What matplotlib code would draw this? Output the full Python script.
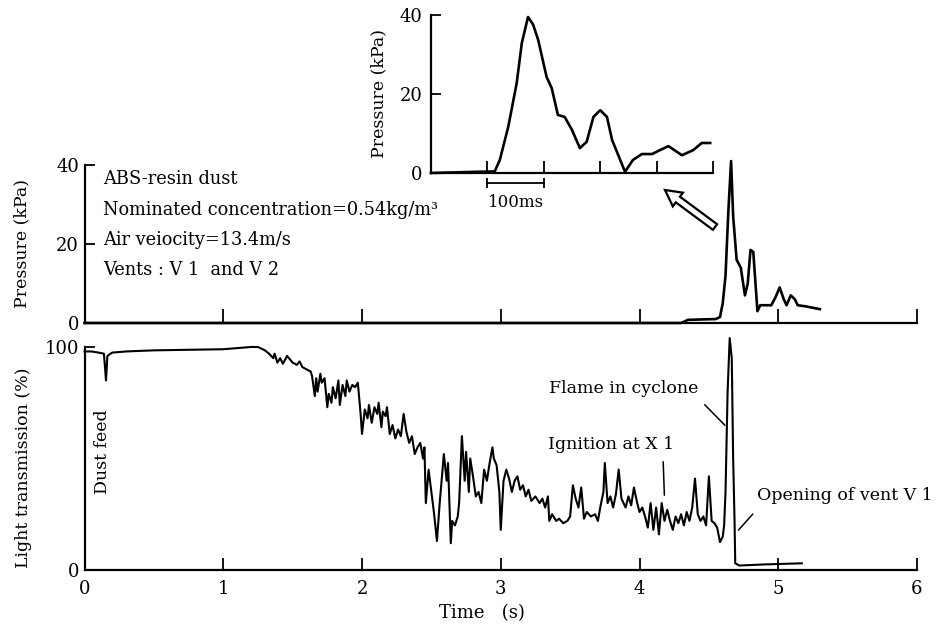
import matplotlib
matplotlib.use("Agg")
import matplotlib.pyplot as plt
from matplotlib.patches import FancyArrow

plt.rcParams['font.family'] = ['DejaVu Serif']

# ---------------- data ----------------
# Upper panel: pressure (kPa) vs time (s)
p_time = [0.0, 4.30, 4.35, 4.55, 4.58, 4.60, 4.62, 4.64, 4.66, 4.675, 4.70, 4.73,
          4.76, 4.78, 4.80, 4.82, 4.84, 4.85, 4.87, 4.95, 4.98, 5.01, 5.04, 5.06,
          5.09, 5.12, 5.14, 5.20, 5.30]
p_kpa = [0.0, 0.0, 0.8, 1.0, 1.5, 5.0, 12.0, 28.0, 41.0, 27.0, 16.0, 14.0,
         7.0, 10.0, 18.5, 18.0, 8.0, 3.0, 4.5, 4.5, 6.5, 9.0, 6.0, 4.5,
         7.0, 6.0, 4.5, 4.2, 3.5]

# Inset: pressure (kPa) vs time (ms)
inset_ms = [0, 80, 113, 122, 137, 152, 161, 172, 181, 190, 205, 214, 225, 237,
            250, 264, 276, 288, 300, 312, 321, 344, 358, 374, 392, 406, 421,
            445, 465, 480, 495]
inset_kpa = [0.0, 0.3, 0.4, 3.3, 11.7, 22.8, 32.9, 39.5, 37.6, 33.7, 24.3, 21.5,
             14.7, 14.2, 10.9, 6.3, 7.9, 14.2, 15.9, 14.2, 8.4, 0.3, 3.3, 4.8,
             4.8, 5.8, 6.8, 4.5, 5.8, 7.6, 7.6]

# Lower panel: light transmission (%) vs time (s)
lt_time = [0.00, 0.05, 0.10, 0.14, 0.155, 0.165, 0.20, 0.30, 0.50, 0.80, 1.00, 1.10,
           1.20, 1.25, 1.30, 1.33, 1.36, 1.37, 1.39, 1.41, 1.43, 1.46, 1.48, 1.50,
           1.53, 1.55, 1.57, 1.60, 1.63, 1.64, 1.66, 1.67, 1.68, 1.70, 1.71, 1.73,
           1.75, 1.76, 1.78, 1.79, 1.81, 1.83, 1.84, 1.86, 1.88, 1.89, 1.91, 1.93,
           1.95, 1.97, 1.99, 2.00, 2.02, 2.04, 2.05, 2.07, 2.09, 2.11, 2.12, 2.14,
           2.15, 2.17, 2.18, 2.20, 2.22, 2.24, 2.26, 2.28, 2.30, 2.32, 2.34, 2.36,
           2.38, 2.40, 2.42, 2.44, 2.45, 2.46, 2.48, 2.50, 2.52, 2.54, 2.56, 2.58,
           2.59, 2.61, 2.62, 2.64, 2.65, 2.67, 2.69, 2.70, 2.71, 2.72, 2.74, 2.75,
           2.77, 2.78, 2.80, 2.82, 2.84, 2.86, 2.88, 2.90, 2.92, 2.94, 2.95, 2.97,
           2.99, 3.00, 3.02, 3.04, 3.06, 3.08, 3.10, 3.12, 3.14, 3.16, 3.18, 3.20,
           3.22, 3.25, 3.28, 3.30, 3.32, 3.34, 3.35, 3.37, 3.40, 3.42, 3.45, 3.48,
           3.50, 3.52, 3.54, 3.56, 3.58, 3.60, 3.62, 3.65, 3.68, 3.70, 3.72, 3.74,
           3.75, 3.77, 3.79, 3.81, 3.83, 3.85, 3.87, 3.90, 3.92, 3.94, 3.96, 3.98,
           4.00, 4.02, 4.04, 4.06, 4.08, 4.10, 4.12, 4.14, 4.16, 4.18, 4.20, 4.22,
           4.24, 4.26, 4.28, 4.30, 4.32, 4.34, 4.36, 4.38, 4.40, 4.42, 4.44, 4.46,
           4.48, 4.50, 4.52, 4.54, 4.56, 4.58, 4.60, 4.61, 4.62, 4.635, 4.65, 4.665,
           4.675, 4.685, 4.69, 4.72, 4.90, 5.17]
lt_pct = [98, 98, 97.5, 97, 85, 96, 97.5, 98, 98.5, 98.8, 99, 99.5,
          100, 100, 98.5, 97, 95, 97, 93, 95, 92.5, 96, 94.5, 93,
          92, 93.5, 91, 90, 89, 87, 78, 86, 80, 88, 84, 86,
          73, 79, 75, 82, 77, 85, 74, 83, 78, 85, 80, 83,
          82, 84, 70, 61, 72, 68, 74, 66, 73, 70, 75, 64,
          71, 69, 73, 61, 65, 59, 63, 60, 70, 62, 57, 60,
          52, 55, 57, 50, 55, 30, 45, 35, 25, 13, 30, 45,
          52, 40, 48, 12, 22, 20, 24, 30, 45, 60, 40, 53,
          35, 50, 42, 33, 35, 30, 45, 40, 48, 55, 50, 47,
          35, 18, 40, 45, 41, 35, 40, 42, 36, 38, 33, 36,
          31, 33, 30, 32, 28, 33, 22, 25, 22, 23, 21, 22,
          24, 38, 32, 28, 37, 23, 26, 24, 25, 22, 29, 35,
          48, 30, 33, 28, 34, 45, 32, 28, 33, 29, 37, 31,
          26, 28, 24, 19, 30, 18, 28, 16, 30, 22, 27, 22,
          18, 24, 21, 25, 20, 26, 22, 28, 41, 25, 22, 24,
          20, 42, 22, 21, 19, 12.5, 15, 20, 35, 80, 104, 95,
          50, 22, 3, 2, 2.5, 3]

x_ticks = [0, 1, 2, 3, 4, 5, 6]
p_ticks = [0, 20, 40]
lt_ticks = [0, 100]
inset_xticks = [100, 200, 300, 400, 500]

W, H = 949, 633
fig = plt.figure(figsize=(W / 100, H / 100), dpi=100)

def fr(left, top, right, bottom):
    return [left / W, 1 - bottom / H, (right - left) / W, (bottom - top) / H]

lw_ax = 1.6
fs = 12.5

def style(ax):
    for s in ['top', 'right']:
        ax.spines[s].set_visible(False)
    for s in ['left', 'bottom']:
        ax.spines[s].set_linewidth(lw_ax)
    ax.tick_params(axis='x', direction='in', length=9, width=1.3, labelsize=13, pad=7)
    ax.tick_params(axis='y', direction='in', length=7, width=1.3, labelsize=13, pad=4)

# ---------------- upper panel ----------------
ax1 = fig.add_axes(fr(84.5, 165, 917, 323))
ax1.plot(p_time, p_kpa, color='black', lw=1.9, clip_on=False)
ax1.set_xlim(0, 6)
ax1.set_ylim(0, 40)
ax1.set_xticks(x_ticks)
ax1.set_xticklabels([])
ax1.set_yticks(p_ticks)
style(ax1)
ax1.tick_params(axis='x', length=10)

info = ["ABS-resin dust",
        "Nominated concentration=0.54kg/m³",
        "Air veiocity=13.4m/s",
        "Vents : V 1  and V 2"]
for i, line in enumerate(info):
    ax1.text(0.135, 36.4 - 7.7 * i, line, fontsize=fs + 0.3, va='center', ha='left')

# ---------------- lower panel ----------------
ax2 = fig.add_axes(fr(84.5, 347, 917, 570))
ax2.plot(lt_time, lt_pct, color='black', lw=1.5, clip_on=False)
ax2.set_xlim(0, 6)
ax2.set_ylim(0, 100)
ax2.set_xticks(x_ticks)
ax2.set_yticks(lt_ticks)
style(ax2)

ax2.text(0.13, 53, "Dust feed", rotation=90, fontsize=fs, ha='center', va='center')
ax2.text(3.35, 81.6, "Flame in cyclone", fontsize=fs, ha='left', va='center')
ax2.annotate('', xy=(4.63, 64), xytext=(4.456, 75),
             arrowprops=dict(arrowstyle='-', lw=1.1, color='black'))
ax2.text(3.34, 56.5, "Ignition at X 1", fontsize=fs, ha='left', va='center')
ax2.annotate('', xy=(4.18, 32.3), xytext=(4.17, 49.8),
             arrowprops=dict(arrowstyle='-', lw=1.1, color='black'))
ax2.text(4.85, 33.6, "Opening of vent V 1", fontsize=fs, ha='left', va='center')
ax2.annotate('', xy=(4.70, 17), xytext=(4.83, 26),
             arrowprops=dict(arrowstyle='-', lw=1.1, color='black'))

# axis labels
fig.text(482 / W, 1 - 613 / H, "Time   (s)", fontsize=fs + 0.5, ha='center', va='center')
fig.text(22 / W, 1 - 243 / H, "Pressure (kPa)", fontsize=fs, rotation=90,
         ha='center', va='center')
fig.text(24 / W, 1 - 468 / H, "Light transmission (%)", fontsize=fs, rotation=90,
         ha='center', va='center')

# ---------------- inset ----------------
ax3 = fig.add_axes(fr(431, 15, 713, 173))
ax3.plot(inset_ms, inset_kpa, color='black', lw=1.9, clip_on=False)
ax3.set_xlim(0, 500)
ax3.set_ylim(0, 40)
ax3.set_xticks(inset_xticks)
ax3.set_xticklabels([])
ax3.set_yticks(p_ticks)
style(ax3)
ax3.tick_params(axis='y', pad=6)
fig.text(379 / W, 1 - 94 / H, "Pressure (kPa)", fontsize=fs, rotation=90,
         ha='center', va='center')
# 100 ms scale bar
ax3.plot([100, 200], [-2.6, -2.6], color='black', lw=1.3, marker='|',
         markersize=7, mew=1.3, clip_on=False)
ax3.text(150, -7.4, "100ms", fontsize=fs - 0.5, ha='center', va='center')

# hollow arrow pointing from the peak to the inset
arr = FancyArrow(7.15, (H - 227) / 100, -0.50, 0.37, width=0.07,
                 head_width=0.17, head_length=0.16, length_includes_head=True,
                 facecolor='white', edgecolor='black', lw=1.6,
                 transform=fig.dpi_scale_trans)
fig.add_artist(arr)

fig.savefig("out.png", dpi=100, facecolor='white')
